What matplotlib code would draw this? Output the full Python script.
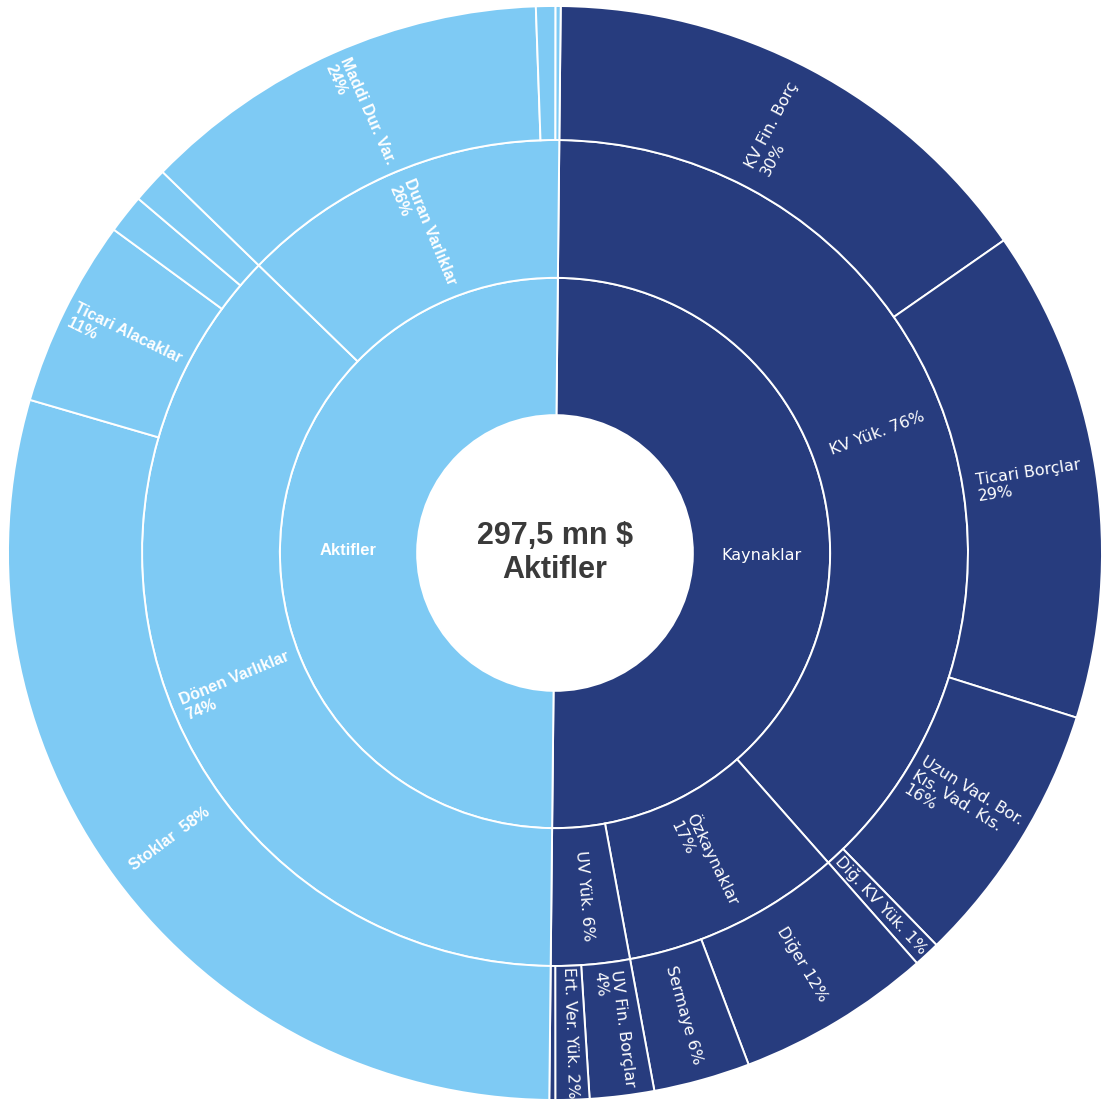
import numpy as np
import matplotlib
matplotlib.use("Agg")
import matplotlib.pyplot as plt
from matplotlib.patches import Wedge

# ---------------- data (percent of each half) ----------------
inner_labels = ["Kaynaklar", "Aktifler"]

kay_mid_labels = ["KV Yük. 76%", "Özkaynaklar\n17%", "UV Yük. 6%"]
kay_mid_values = [76.65, 17.2, 6.15]
kay_out_labels = ["KV Fin. Borç\n30%", "Ticari Borçlar\n29%",
                  "Uzun Vad. Bor.\nKıs. Vad. Kıs.\n16%", "Diğ. KV Yük. 1%",
                  "Diğer 12%", "Sermaye 6%",
                  "UV Fin. Borçlar\n4%", "Ert. Ver. Yük. 2%", ""]
kay_out_values = [30.3, 29.1, 15.7, 1.55,
                  11.5, 5.7,
                  3.8, 2.0, 0.35]

akt_mid_labels = ["Dönen Varlıklar\n74%", "Duran Varlıklar\n26%"]
akt_mid_values = [74.2, 25.8]
akt_out_labels = ["Stoklar  58%", "Ticari Alacaklar\n11%", "", "",
                  "Maddi Dur. Var.\n24%", "", ""]
akt_out_values = [58.7, 11.1, 2.3, 2.1,
                  24.35, 1.15, 0.3]

center_text = "297,5 mn $\nAktifler"

# ---------------- style ----------------
LIGHT = "#7ecaf4"
NAVY = "#273c7e"
R0, R1, R2, R3 = 0.252, 0.503, 0.755, 1.0
START = 89.4   # slight rotation of the original scan

W, H = 1105, 1110
fig = plt.figure(figsize=(W / 100, H / 100), dpi=100)
ax = fig.add_axes([0, 0, 1, 1])
cx, cy, rp = 555, 553, 547
ax.set_xlim(-cx / rp, (W - cx) / rp)
ax.set_ylim(-(H - cy) / rp, cy / rp)
ax.axis("off")


def draw_ring(values, labels, r_in, r_out, color, start, bold, fs,
              horizontal=False):
    cur = start
    for v, lab in zip(values, labels):
        d = v * 1.8
        t2, t1 = cur, cur - d
        ax.add_patch(Wedge((0, 0), r_out, t1, t2, width=r_out - r_in,
                           facecolor=color, edgecolor="white", linewidth=1.4))
        if lab:
            mid = (t1 + t2) / 2
            rm = (r_in + r_out) / 2
            x, y = rm * np.cos(np.radians(mid)), rm * np.sin(np.radians(mid))
            a = (mid + 180) % 360 - 180
            if horizontal:
                rot = 0
            elif -90 < a <= 90:
                rot = a
            else:
                rot = a - 180 if a > 0 else a + 180
            if bold:
                ax.text(x, y, lab, ha="center", va="center", rotation=rot,
                        rotation_mode="anchor", color="white", fontsize=fs,
                        fontweight="bold", family="Liberation Sans",
                        multialignment="left", linespacing=1.1)
            else:
                ax.text(x, y, lab, ha="center", va="center", rotation=rot,
                        rotation_mode="anchor", color="white", fontsize=fs,
                        family="DejaVu Sans", multialignment="left",
                        linespacing=1.15)
        cur = t1
    return cur


# inner ring
end = draw_ring([100], [inner_labels[0]], R0, R1, NAVY, START, False, 11.5,
                horizontal=True)
draw_ring([100], [inner_labels[1]], R0, R1, LIGHT, end, True, 12,
          horizontal=True)
# middle ring
end = draw_ring(kay_mid_values, kay_mid_labels, R1, R2, NAVY, START, False, 11.5)
draw_ring(akt_mid_values, akt_mid_labels, R1, R2, LIGHT, end, True, 11.5)
# outer ring
end = draw_ring(kay_out_values, kay_out_labels, R2, R3, NAVY, START, False, 11.5)
draw_ring(akt_out_values, akt_out_labels, R2, R3, LIGHT, end, True, 11.5)

ax.text(0, 0, center_text, ha="center", va="center", fontsize=22,
        fontweight="bold", family="Liberation Sans", color="#3a3a3a",
        linespacing=1.15)

fig.savefig("out.png", dpi=100, facecolor="white")
